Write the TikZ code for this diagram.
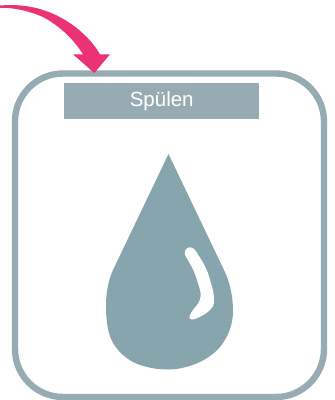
\documentclass[tikz,border=0pt]{standalone}
\usepackage{fontspec}
\setmainfont{Liberation Sans}
\definecolor{frameC}{HTML}{97ABB3}
\definecolor{headC}{HTML}{97ABB3}
\definecolor{dropC}{HTML}{86A5AC}
\definecolor{arrowC}{HTML}{EC3275}
\begin{document}
\begin{tikzpicture}[x=1pt,y=-1pt,
  framebox/.style={draw=frameC,line width=6.4pt,rounded corners=48pt,fill=white},
  headbox/.style={fill=headC,text=white,inner sep=0pt,anchor=north west,minimum width=195pt,minimum height=36pt,font=\fontsize{20.5pt}{22pt}\selectfont}]
\useasboundingbox (0,0) rectangle (335,400);
\fill[white] (0,0) rectangle (335,400);
\draw[framebox] (15,73.5) rectangle (324,397);
\node[headbox] (head) at (64,83) {Spülen};
% arrow
\fill[arrowC] (0,5.5) .. controls (13,4.5) and (28,5) .. (43,10)
  .. controls (66,17) and (89,35) .. (100,54.3)
  -- (110,54.3) -- (94.3,73) -- (73,54.3) -- (83,54.3)
  .. controls (73,38) and (58,25) .. (43,17)
  .. controls (28,10.5) and (13,7.5) .. (0,7.8) -- cycle;
% drop
\fill[dropC] (168.5,154) -- (113,270)
  .. controls (108,281) and (106,294) .. (106,305)
  .. controls (106,322) and (108,334) .. (113,343)
  .. controls (118,351) and (124,357) .. (133,362)
  .. controls (143,367) and (156,369.5) .. (168,369.5)
  .. controls (180,369.5) and (191,366) .. (200,362)
  .. controls (208,358) and (215,353) .. (220,347)
  .. controls (228,337) and (233,325) .. (233,311)
  .. controls (233,297) and (230,282) .. (224,270) -- cycle;
% highlight
\fill[white] (185,255)
  .. controls (184,250) and (187,247.3) .. (190,247.3)
  .. controls (194,247.3) and (196.5,252) .. (198.3,255)
  .. controls (205,265) and (208,272) .. (210,280)
  .. controls (213,289) and (214,295) .. (214,300)
  .. controls (214,305) and (213,308) .. (210,310)
  .. controls (206,314) and (201,316.5) .. (196.7,318.3)
  .. controls (193,319.8) and (190,320) .. (189.5,318.5)
  .. controls (188.5,315) and (193,310) .. (198.3,303.3)
  .. controls (201,299) and (201,294) .. (200,290)
  .. controls (198,282) and (195,274) .. (193.3,270)
  .. controls (190,263) and (187,259) .. (185,255) -- cycle;
\end{tikzpicture}
\end{document}
